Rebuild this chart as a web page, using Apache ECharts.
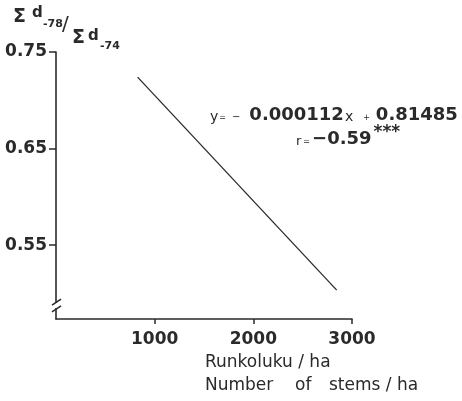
<!DOCTYPE html>
<html><head><meta charset="utf-8">
<script src="https://cdn.jsdelivr.net/npm/echarts@6/dist/echarts.min.js"></script>
<style>html,body{margin:0;padding:0;background:#fff}#c{width:462px;height:401px}</style>
</head><body><div id="c"></div>
<script>
// Data
const lineX = [827, 2845];
const lineY = [0.724, 0.5034];
const xTicks = [1000, 2000, 3000];
const yTicks = [0.55, 0.65, 0.75];
const xRange = [0, 3000];
const yRange = [0.4735, 0.75];
const breakVals = [0.4911, 0.4839];

const FONT = 'DejaVu Sans';
const INK = '#2a2a2a';
const chart = echarts.init(document.getElementById('c'), null, {renderer: 'canvas'});

chart.setOption({
  animation: false,
  backgroundColor: '#fff',
  grid: {left: 56, top: 52, right: 110, bottom: 82, containLabel: false},
  xAxis: {
    type: 'value', min: xRange[0], max: xRange[1], interval: 1000,
    splitLine: {show: false},
    axisLine: {lineStyle: {color: INK, width: 1.6}},
    axisTick: {customValues: xTicks, length: 5, lineStyle: {color: INK, width: 1.5}},
    axisLabel: {customValues: xTicks, color: INK, fontFamily: FONT, fontWeight: 'bold', fontSize: 17, margin: 12,
      formatter: v => String(v)}
  },
  yAxis: {
    type: 'value', min: yRange[0], max: yRange[1],
    splitLine: {show: false},
    axisLine: {lineStyle: {color: INK, width: 1.6}},
    axisTick: {customValues: yTicks, length: 7, lineStyle: {color: INK, width: 1.5}},
    axisLabel: {customValues: yTicks, color: INK, fontFamily: FONT, fontWeight: 'bold', fontSize: 17, margin: 9,
      formatter: v => v.toFixed(2)}
  },
  series: [{
    type: 'line', data: lineX.map((x, i) => [x, lineY[i]]),
    showSymbol: false, lineStyle: {color: INK, width: 1.3}
  }]
});

const p1 = chart.convertToPixel({gridIndex: 0}, [0, breakVals[0]]);
const p2 = chart.convertToPixel({gridIndex: 0}, [0, breakVals[1]]);
const ax = p1[0];

function txt(str, left, top, size, bold, extra) {
  return Object.assign({type: 'text', left: left, top: top, z: 102, style: Object.assign({
    text: str, fontFamily: FONT, fontSize: size, fontWeight: bold ? 'bold' : 'normal', fill: INK
  }, extra || {})});
}

chart.setOption({
  graphic: [
    {type: 'rect', shape: {x: ax - 3, y: p1[1] + 1, width: 6, height: p2[1] - p1[1] - 2}, style: {fill: '#fff'}, z: 100},
    {type: 'line', shape: {x1: ax - 4, y1: p1[1] + 3, x2: ax + 5, y2: p1[1] - 3}, style: {stroke: INK, lineWidth: 1.5}, z: 101},
    {type: 'line', shape: {x1: ax - 4, y1: p2[1] + 3, x2: ax + 5, y2: p2[1] - 3}, style: {stroke: INK, lineWidth: 1.5}, z: 101},
    // y axis title  Σd-78 / Σd-74
    txt('Σ', 13, 8, 19, true),
    txt('d', 32, 6, 15, true),
    txt('-78', 43, 19, 11, true),
    txt('/', 62, 15, 20, false),
    txt('Σ', 72, 29, 19, true),
    txt('d', 88, 29, 15, true),
    txt('-74', 100, 41, 11, true),
    // regression equation
    {type: 'text', left: 210, top: 106, z: 102, style: {
      text: '{y|y}{eq|=}{m|−}{n|0.000112}{x|x}{p|+}{n2|0.81485}', rich: {
        y: {fontFamily: FONT, fontSize: 14, fill: INK, verticalAlign: 'bottom'},
        eq: {fontFamily: FONT, fontSize: 8, fill: INK, padding: [0, 0, 2, 1], verticalAlign: 'bottom'},
        m: {fontFamily: FONT, fontSize: 10, fill: INK, padding: [0, 0, 2, 6], verticalAlign: 'bottom'},
        n: {fontFamily: FONT, fontWeight: 'bold', fontSize: 18, fill: INK, padding: [0, 0, 0, 9], verticalAlign: 'bottom'},
        x: {fontFamily: FONT, fontSize: 14, fill: INK, padding: [0, 0, 0, 1], verticalAlign: 'bottom'},
        p: {fontFamily: FONT, fontSize: 8, fill: INK, padding: [0, 0, 2, 10], verticalAlign: 'bottom'},
        n2: {fontFamily: FONT, fontWeight: 'bold', fontSize: 18, fill: INK, padding: [0, 0, 0, 6], verticalAlign: 'bottom'}
      }}},
    {type: 'text', left: 296, top: 124, z: 102, style: {
      text: '{r|r}{eq|=}{n|−0.59}{st|***}', rich: {
        r: {fontFamily: FONT, fontSize: 13, fill: INK, verticalAlign: 'bottom'},
        eq: {fontFamily: FONT, fontSize: 8, fill: INK, padding: [0, 0, 2, 2], verticalAlign: 'bottom'},
        n: {fontFamily: FONT, fontWeight: 'bold', fontSize: 18, fill: INK, padding: [0, 0, 0, 2], verticalAlign: 'bottom'},
        st: {fontFamily: FONT, fontWeight: 'bold', fontSize: 17, fill: INK, padding: [0, 0, 7, 2], verticalAlign: 'bottom'}
      }}},
    // x axis title
    txt('Runkoluku / ha', 205, 354, 17, false),
    txt('Number', 205, 377, 17, false),
    txt('of', 295, 377, 17, false),
    txt('stems / ha', 329, 377, 17, false)
  ]
});
</script></body></html>
